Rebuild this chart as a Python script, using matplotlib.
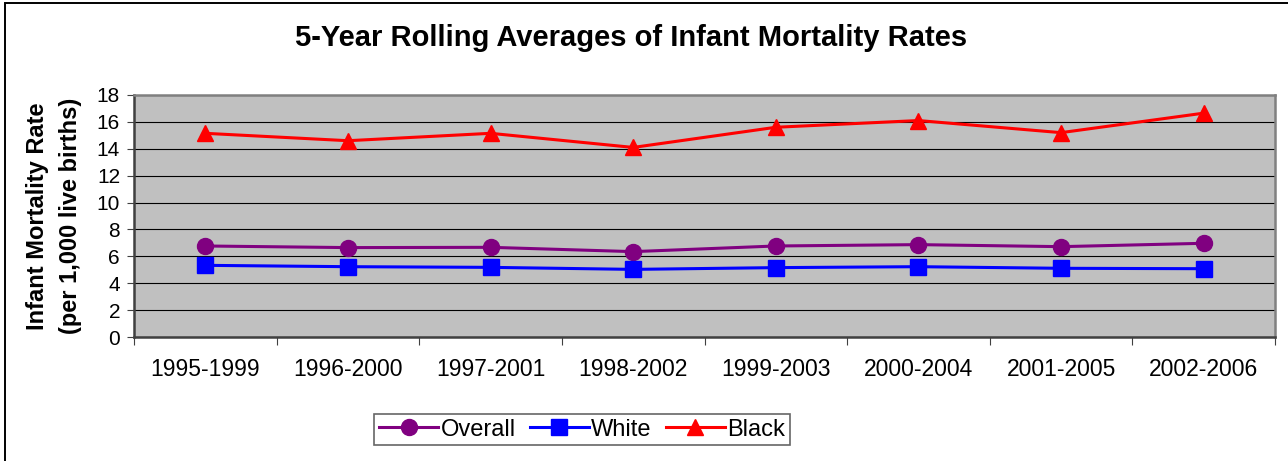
import matplotlib.pyplot as plt
from matplotlib.patches import Rectangle

plt.rcParams['font.family'] = ['Liberation Sans', 'DejaVu Sans']

periods = ['1995-1999', '1996-2000', '1997-2001', '1998-2002',
           '1999-2003', '2000-2004', '2001-2005', '2002-2006']
overall = [6.77, 6.65, 6.67, 6.35, 6.77, 6.87, 6.72, 6.97]
white = [5.33, 5.23, 5.18, 5.03, 5.16, 5.23, 5.11, 5.08]
black = [15.15, 14.6, 15.15, 14.1, 15.6, 16.1, 15.2, 16.65]

W, H = 1288, 461
fig = plt.figure(figsize=(W / 100, H / 100), dpi=100)
fig.patch.set_facecolor('white')

# outer chart frame (left + top edges visible)
fig.patches.append(Rectangle((5 / W, -0.05), 1.2, 1 - 3 / H + 0.05, transform=fig.transFigure,
                             facecolor='none', edgecolor='black', linewidth=1.4))

ax = fig.add_axes([134 / W, 1 - 337 / H, (1275 - 134) / W, (337 - 95) / H])
ax.set_facecolor('#C0C0C0')

x = [i + 0.5 for i in range(len(periods))]
ax.plot(x, overall, color='#800080', lw=2.2, marker='o', ms=11.5, label='Overall')
ax.plot(x, white, color='#0000FF', lw=2.2, marker='s', ms=11, label='White')
ax.plot(x, black, color='#FF0000', lw=2.2, marker='^', ms=12, label='Black')

ax.set_xlim(0, len(periods))
ax.set_ylim(0, 18)
ax.set_yticks(range(0, 19, 2))
ax.grid(axis='y', color='black', lw=0.8)
ax.set_axisbelow(True)

ax.set_xticks(range(len(periods) + 1))
ax.set_xticklabels([])
ax.set_xticks(x, minor=True)
ax.set_xticklabels(periods, minor=True, fontsize=16.5)
ax.tick_params(axis='x', which='major', direction='out', length=6, color='#404040')
ax.tick_params(axis='x', which='minor', length=0, pad=15)
ax.tick_params(axis='y', direction='out', length=5, pad=5, labelsize=15, color='#404040')

for s in ax.spines.values():
    s.set_color('#808080')
    s.set_linewidth(1.8)
ax.spines['left'].set_color('#404040')
ax.spines['bottom'].set_color('#404040')

fig.text(631.5 / W, 1 - 38 / H, '5-Year Rolling Averages of Infant Mortality Rates',
         fontsize=21, fontweight='bold', ha='center', va='center')
fig.text(38 / W, 1 - 216 / H, 'Infant Mortality Rate', rotation=90,
         fontsize=17, fontweight='bold', ha='center', va='center')
fig.text(70 / W, 1 - 216 / H, '(per 1,000 live births)', rotation=90,
         fontsize=17, fontweight='bold', ha='center', va='center')

leg = fig.legend(loc='center', bbox_to_anchor=(582 / W, 1 - 429.5 / H), ncol=3,
                 fontsize=17, frameon=True, fancybox=False, handlelength=2.5,
                 handletextpad=0.1, columnspacing=0.6, borderpad=0.2)
leg.get_frame().set_edgecolor('#404040')
leg.get_frame().set_linewidth(1.2)

fig.savefig('out.png', dpi=100, facecolor='white')
